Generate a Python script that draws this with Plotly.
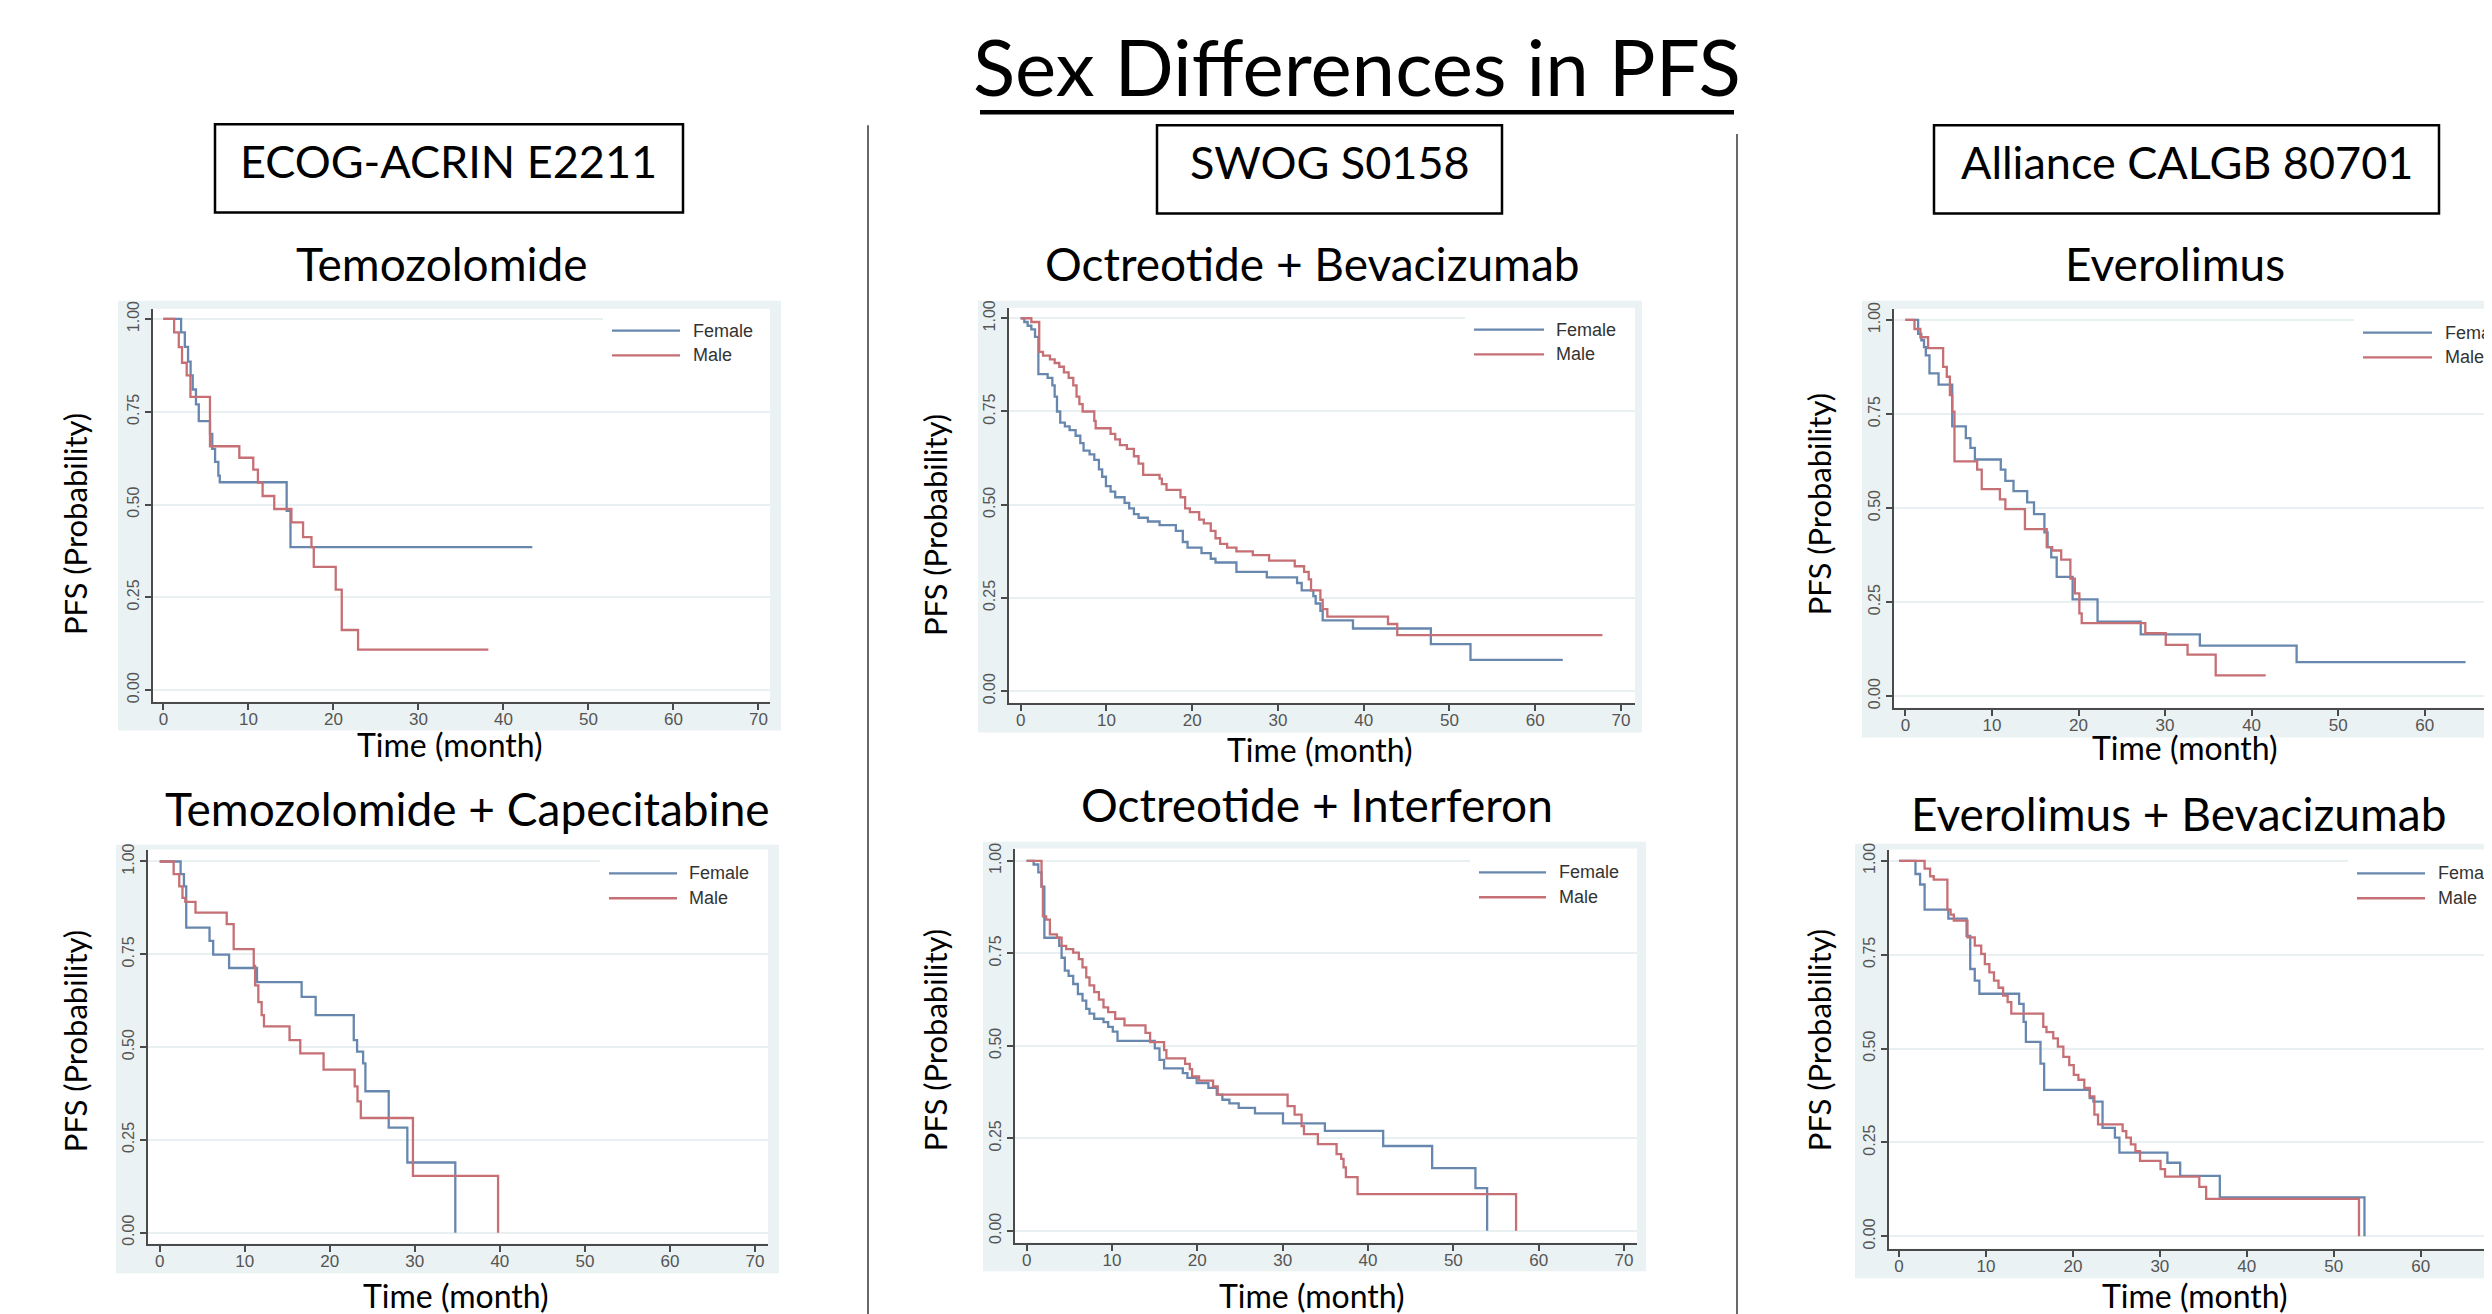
import plotly.graph_objects as go

W, H = 2492, 1314
OFF = 8  # the page body margin shifts the figure by this many pixels

# ---------------- data (time in months, PFS probability) ----------------
tem_f_t = [0, 2.08, 2.52, 2.9, 3.2, 3.45, 3.83, 4.16, 5.48, 5.75, 6.08, 6.46, 6.63, 14.5, 14.95, 43.4]
tem_f_s = [1.0, .964, .925, .885, .848, .81, .77, .725, .69, .65, .615, .578, .56, .483, .385, .385]
tem_m_t = [0, 1.26, 1.81, 2.19, 2.74, 3.18, 5.48, 8.93, 10.57, 11.12, 11.67, 13.04, 15.06, 16.43, 17.42, 17.69, 20.27, 20.98, 22.9, 38.23]
tem_m_s = [1.0, .964, .924, .882, .848, .79, .657, .626, .594, .559, .523, .488, .452, .412, .385, .332, .271, .162, .109, .109]

ob_f_t = [0, 0.43, 0.82, 1.25, 1.68, 2.07, 3.15, 3.70, 3.97, 4.24, 4.62, 5.16, 5.71, 6.41, 6.96, 7.34, 8.04, 8.59, 9.13, 9.51,
          9.95, 10.49, 11.03, 12.12, 12.66, 13.21, 13.75, 14.84, 16.20, 18.10, 18.91, 19.46, 21.09, 22.17, 22.72, 25.16, 28.70,
          32.23, 32.77, 34.13, 34.40, 34.95, 35.22, 38.75, 47.83, 52.45, 63.21]
ob_f_s = [1.0, .99, .98, .97, .95, .85, .84, .82, .79, .75, .72, .71, .70, .685, .665, .645, .635, .62, .595, .575,
          .55, .535, .52, .505, .49, .475, .465, .455, .445, .43, .40, .385, .37, .355, .345, .32, .305,
          .29, .27, .255, .235, .215, .19, .168, .126, .084, .084]
ob_m_t = [0, 1.25, 2.17, 2.61, 3.42, 3.97, 4.51, 5.05, 5.60, 6.14, 6.52, 6.85, 7.23, 8.59, 8.75, 10.49, 11.03, 11.58, 12.39,
          13.21, 13.75, 14.29, 16.2, 16.47, 17.01, 18.64, 19.18, 19.73, 20.82, 21.36, 22.17, 22.72, 23.26, 24.08, 25.16,
          27.07, 28.97, 31.96, 33.05, 33.59, 33.86, 34.95, 35.22, 35.76, 42.83, 43.91, 67.83]
ob_m_s = [1.0, .99, .91, .90, .89, .88, .87, .855, .84, .82, .79, .77, .75, .725, .705, .69, .675, .66, .65,
          .63, .61, .58, .57, .555, .54, .52, .49, .48, .46, .45, .43, .41, .395, .385, .375,
          .365, .35, .335, .32, .30, .27, .245, .22, .20, .18, .15, .15]

ev_f_t = [0, 1.47, 1.84, 2.15, 2.36, 2.78, 3.83, 5.41, 6.98, 7.51, 8.03, 11.02, 11.55, 12.49, 14.07, 14.86, 16.06, 16.43,
          16.85, 17.48, 19.32, 22.2, 27.19, 34.02, 45.2, 64.72]
ev_f_s = [1.0, .963, .946, .928, .906, .858, .828, .717, .686, .66, .629, .602, .572, .545, .515, .484, .435, .396,
          .369, .317, .257, .198, .164, .134, .09, .09]
ev_m_t = [0, 1.05, 1.73, 2.62, 4.36, 4.78, 5.14, 5.41, 5.67, 8.29, 8.82, 10.92, 11.55, 13.81, 16.33, 16.96, 18.0, 19.06,
          19.58, 20.1, 20.37, 27.72, 30.08, 32.6, 35.85, 41.63]
ev_m_s = [1.0, .976, .954, .925, .875, .849, .80, .756, .624, .602, .55, .523, .497, .444, .396, .387, .363, .312,
          .273, .22, .194, .167, .136, .11, .055, .055]

tc_f_t = [0, 2.46, 2.85, 3.12, 5.86, 6.29, 8.16, 11.44, 16.69, 18.34, 22.82, 23.21, 23.92, 24.19, 26.93, 29.12, 34.76]
tc_f_s = [1.0, .966, .933, .822, .786, .749, .713, .675, .635, .586, .519, .488, .456, .381, .283, .189, 0]
tc_m_t = [0, 1.64, 2.30, 2.68, 3.01, 4.21, 7.88, 8.70, 11.06, 11.22, 11.60, 11.99, 12.26, 15.27, 16.53, 19.27, 22.93,
          23.26, 23.65, 29.78, 39.79]
tc_m_s = [1.0, .966, .933, .902, .891, .862, .831, .764, .719, .666, .621, .586, .556, .519, .483, .439, .394,
          .354, .309, .153, 0]

oi_f_t = [0, 0.82, 1.37, 1.75, 2.08, 3.82, 4.10, 4.48, 4.92, 5.46, 6.01, 6.55, 6.99, 7.37, 7.92, 9.01, 9.56, 10.10, 10.65,
          15.02, 15.57, 16.11, 18.30, 18.84, 19.93, 21.30, 22.28, 22.94, 23.76, 24.85, 26.76, 30.04, 34.95, 41.78, 47.52,
          52.59, 53.96]
oi_f_s = [1.0, .99, .969, .930, .792, .77, .738, .703, .689, .667, .64, .622, .60, .587, .573, .564, .551, .538, .513,
          .493, .462, .439, .426, .413, .399, .386, .368, .354, .344, .332, .317, .29, .27, .229, .169,
          .115, 0]
oi_m_t = [0, 1.75, 1.91, 2.29, 2.73, 3.55, 4.10, 4.64, 5.46, 6.12, 6.55, 6.99, 7.37, 7.92, 8.47, 9.01, 9.56, 10.38, 11.47,
          13.93, 14.47, 16.11, 16.38, 18.57, 19.12, 19.39, 20.21, 21.85, 22.39, 30.58, 31.40, 32.22, 32.50, 34.13, 36.32,
          36.86, 37.14, 37.41, 38.78, 57.35]
oi_m_s = [1.0, .93, .85, .841, .801, .792, .77, .761, .752, .734, .712, .685, .663, .645, .625, .604, .591, .573, .555,
          .535, .51, .488, .466, .451, .437, .417, .406, .39, .368, .337, .314, .283, .261, .234, .207,
          .194, .171, .145, .099, 0]

eb_f_t = [0, 1.89, 2.42, 2.94, 5.67, 7.77, 8.19, 8.71, 9.24, 13.81, 14.33, 14.59, 16.27, 16.69, 21.94, 22.36, 23.41,
          24.83, 25.35, 30.87, 32.34, 36.90, 53.54]
eb_f_s = [1.0, .965, .937, .870, .846, .80, .712, .681, .646, .619, .571, .518, .46, .39, .368, .359, .289,
          .263, .223, .196, .161, .104, 0]
eb_m_t = [0, 2.94, 3.57, 3.99, 5.56, 5.93, 6.30, 7.87, 8.71, 9.45, 9.87, 10.39, 10.92, 11.44, 11.97, 12.49, 12.91, 16.59,
          16.96, 17.74, 18.27, 18.90, 19.58, 20.10, 20.63, 21.31, 21.94, 22.47, 22.89, 25.72, 26.14, 26.67, 27.19, 27.72,
          30.08, 30.60, 34.54, 35.33, 52.91]
eb_m_s = [1.0, .979, .959, .95, .87, .857, .841, .796, .774, .752, .725, .703, .681, .662, .641, .624, .593, .558,
          .544, .527, .505, .478, .456, .43, .417, .395, .373, .324, .298, .28, .263, .245, .227, .201,
          .179, .159, .132, .10, 0]

series_names = ["Female", "Male"]
x_ticks = [0, 10, 20, 30, 40, 50, 60, 70]
y_ticks = [0, 0.25, 0.5, 0.75, 1.0]
y_tick_labels = ["0.00", "0.25", "0.50", "0.75", "1.00"]

trial_labels = ["ECOG-ACRIN E2211", "SWOG S0158", "Alliance CALGB 80701"]
panel_titles = ["Temozolomide", "Octreotide + Bevacizumab", "Everolimus",
                "Temozolomide + Capecitabine", "Octreotide + Interferon", "Everolimus + Bevacizumab"]
curves = [
    (tem_f_t, tem_f_s, tem_m_t, tem_m_s),
    (ob_f_t, ob_f_s, ob_m_t, ob_m_s),
    (ev_f_t, ev_f_s, ev_m_t, ev_m_s),
    (tc_f_t, tc_f_s, tc_m_t, tc_m_s),
    (oi_f_t, oi_f_s, oi_m_t, oi_m_s),
    (eb_f_t, eb_f_s, eb_m_t, eb_m_s),
]

# ---------------- layout geometry (window pixels) ----------------
P = [
    dict(x0=153, x1=770, t=303, b=699, xr=[-1.224, 71.36], yr=[-0.0313, 1.0275],
         g=(118, 295, 781, 728), leg=(612, 680, 691, 325), tt=(442, 257), yt=(75, 520), xt=(450, 742)),
    dict(x0=1009, x1=1635, t=302, b=700, xr=[-1.354, 71.63], yr=[-0.0311, 1.0282],
         g=(978, 295, 1642, 730), leg=(1474, 1544, 1554, 324), tt=(1312, 257), yt=(935, 521), xt=(1320, 747)),
    dict(x0=1894, x1=2500, t=303, b=705, xr=[-1.318, 68.7], yr=[-0.0309, 1.0298],
         g=(1862, 295, 2500, 735), leg=(2363, 2432, 2443, 327), tt=(2175, 257), yt=(1819, 500), xt=(2185, 745)),
    dict(x0=148, x1=768, t=848, b=1245, xr=[-1.375, 71.53], yr=[-0.0294, 1.032],
         g=(116, 843, 779, 1275), leg=(609, 677, 687, 872), tt=(467, 807), yt=(75, 1041), xt=(456, 1297)),
    dict(x0=1015, x1=1637, t=847, b=1244, xr=[-1.36, 71.52], yr=[-0.0321, 1.033],
         g=(983, 840, 1646, 1273), leg=(1479, 1546, 1557, 871), tt=(1317, 803), yt=(935, 1040), xt=(1312, 1297)),
    dict(x0=1889, x1=2500, t=848, b=1250, xr=[-1.156, 69.13], yr=[-0.0325, 1.0299],
         g=(1855, 842, 2500, 1280), leg=(2357, 2425, 2436, 872), tt=(2178, 812), yt=(1819, 1040), xt=(2195, 1297)),
]

FEMALE = "#6787ae"
MALE = "#c66f75"
COLORS = [FEMALE, MALE]
AXIS = "#4a4a4a"
TITLE_FONT = "Lato"
TICK_FONT = "Liberation Sans"


def px(x):
    return (x - OFF) / W


def py(y):
    return 1 - (y - OFF) / H


fig = go.Figure()
layout = dict(width=W, height=H, margin=dict(l=0, r=0, t=0, b=0),
              paper_bgcolor="white", plot_bgcolor="white", showlegend=False)
shapes = []
annotations = []

for i, (p, c) in enumerate(zip(P, curves)):
    k = "" if i == 0 else str(i + 1)
    ft, fs, mt, ms = c
    for nm, tt, ss, col in [(series_names[0], ft, fs, FEMALE), (series_names[1], mt, ms, MALE)]:
        fig.add_trace(go.Scatter(x=tt, y=ss, mode="lines", line=dict(color=col, width=2.3, shape="hv"),
                                 name=nm, xaxis="x" + k, yaxis="y" + k))
    layout["xaxis" + k] = dict(domain=[px(p["x0"]), min(1.0, px(p["x1"]))], range=p["xr"], anchor="y" + k,
                               tickvals=x_ticks, showgrid=False, zeroline=False, showline=True,
                               linecolor=AXIS, linewidth=2, ticks="outside", ticklen=6, tickwidth=2,
                               tickcolor=AXIS, ticklabelstandoff=-5,
                               tickfont=dict(family=TICK_FONT, size=17, color="#555555"))
    layout["yaxis" + k] = dict(domain=[py(p["b"]), py(p["t"])], range=p["yr"], anchor="x" + k,
                               tickvals=y_ticks, ticktext=y_tick_labels, tickangle=-90,
                               showgrid=True, gridcolor="#e8f0f1", gridwidth=1.5, zeroline=False,
                               showline=True, linecolor=AXIS, linewidth=2, ticks="outside", ticklen=6,
                               tickwidth=2, tickcolor=AXIS,
                               tickfont=dict(family=TICK_FONT, size=16, color="#555555"))
    # grey graph region and white plot region
    gx0, gy0, gx1, gy1 = p["g"]
    shapes.append(dict(type="rect", xref="paper", yref="paper", x0=px(gx0), x1=px(gx1),
                       y0=py(gy1), y1=py(gy0), fillcolor="#eaf2f3", line=dict(width=0), layer="below"))
    shapes.append(dict(type="rect", xref="paper", yref="paper", x0=px(p["x0"]), x1=px(p["x1"]),
                       y0=py(p["b"]), y1=py(p["t"]), fillcolor="white", line=dict(width=0), layer="below"))
    # legend (inside plot, top right)
    lx0, lx1, ltx, ly = p["leg"]
    shapes.append(dict(type="rect", xref="paper", yref="paper", x0=px(lx0 - 9), x1=px(p["x1"]),
                       y0=py(ly + 42), y1=py(p["t"] + 1), fillcolor="white", line=dict(width=0), layer="above"))
    for j in range(2):
        yy = ly + 25 * j
        shapes.append(dict(type="line", xref="paper", yref="paper", x0=px(lx0), x1=px(lx1), y0=py(yy), y1=py(yy),
                           line=dict(color=COLORS[j], width=2.3), layer="above"))
        annotations.append(dict(text=series_names[j], x=px(ltx), y=py(yy), xref="paper", yref="paper",
                                showarrow=False, xanchor="left", yanchor="middle",
                                font=dict(family=TICK_FONT, size=18, color="#333333")))
    annotations.append(dict(text=panel_titles[i], x=px(p["tt"][0]), y=py(p["tt"][1]), xref="paper", yref="paper",
                            showarrow=False, xanchor="center", yanchor="middle",
                            font=dict(family=TITLE_FONT, size=46, color="black")))
    annotations.append(dict(text="PFS (Probability)", x=px(p["yt"][0]), y=py(p["yt"][1]), xref="paper",
                            yref="paper", showarrow=False, textangle=-90, xanchor="center", yanchor="middle",
                            font=dict(family=TITLE_FONT, size=31, color="black")))
    annotations.append(dict(text="Time (month)", x=px(p["xt"][0]), y=py(p["xt"][1]), xref="paper",
                            yref="paper", showarrow=False, xanchor="center", yanchor="middle",
                            font=dict(family=TITLE_FONT, size=32, color="black")))

# main title + underline
annotations.append(dict(text="Sex Differences in PFS", x=px(1357), y=py(58), xref="paper", yref="paper",
                        showarrow=False, xanchor="center", yanchor="middle",
                        font=dict(family=TITLE_FONT, size=78, color="black")))
shapes.append(dict(type="line", xref="paper", yref="paper", x0=px(980), x1=px(1734), y0=py(105), y1=py(105),
                   line=dict(color="black", width=4.5)))

# trial boxes
boxes = [(215, 117, 683, 206), (1157, 118, 1502, 207), (1934, 118, 2439, 207)]
for lab, (bx0, by0, bx1, by1) in zip(trial_labels, boxes):
    shapes.append(dict(type="rect", xref="paper", yref="paper", x0=px(bx0), x1=px(bx1), y0=py(by1), y1=py(by0),
                       line=dict(color="black", width=2.5), fillcolor="rgba(0,0,0,0)"))
    annotations.append(dict(text=lab, x=px((bx0 + bx1) / 2), y=py((by0 + by1) / 2 - 7), xref="paper", yref="paper",
                            showarrow=False, xanchor="center", yanchor="middle",
                            font=dict(family=TITLE_FONT, size=45, color="black")))

# column dividers
for dx, dy in [(868, 118), (1737, 127)]:
    shapes.append(dict(type="line", xref="paper", yref="paper", x0=px(dx), x1=px(dx), y0=py(dy), y1=py(1330),
                       line=dict(color="#444444", width=1.6)))

layout["shapes"] = shapes
layout["annotations"] = annotations
fig.update_layout(**layout)
fig.write_html("out.html")
